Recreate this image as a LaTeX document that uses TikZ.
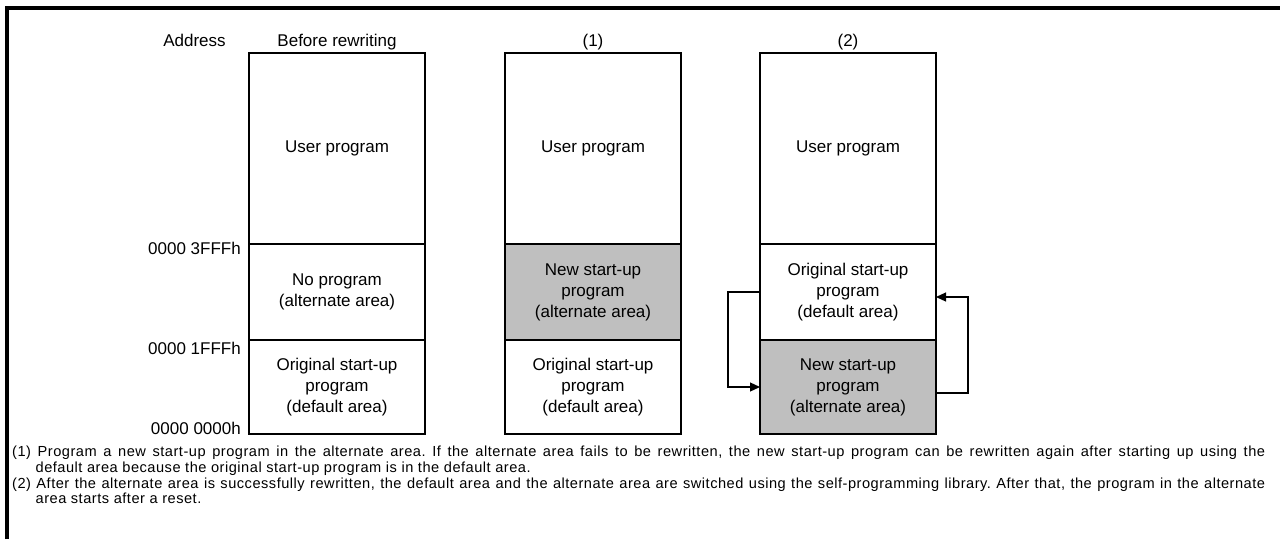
\documentclass[tikz,border=0pt]{standalone}
\usepackage{fontspec}
\setmainfont{Liberation Sans}
\usetikzlibrary{positioning, arrows.meta}

\newlength{\noteindent}

\begin{document}
\begin{tikzpicture}[x=1pt, y=-1pt,
    area/.style={draw, line width=1.2pt, outer sep=0pt, inner sep=0pt,
      minimum width=176pt, align=center, font=\fontsize{17}{21}\selectfont},
    newarea/.style={area, fill=black!25},
    headtext/.style={inner sep=0pt, font=\fontsize{17}{21}\selectfont},
    addrtext/.style={inner sep=0pt, font=\fontsize{17}{21}\selectfont},
    notetext/.style={inner sep=0pt, text width=1253pt, align=justify,
      font=\fontsize{14.6}{15.7}\selectfont\addfontfeature{LetterSpace=3.5}\frenchspacing},
    swaparrow/.style={line width=1.2pt, -{Triangle[length=10pt, width=9pt]}}]

    \useasboundingbox (0,0) rectangle (1280,539);

    % Frame (cut at right and bottom)
    \draw[line width=3.5pt] (7,539) -- (7,8) -- (1280,8);

    % Before rewriting
    \node[area, minimum height=191pt, anchor=north] (user0) at (337,53) {User program};
    \node[area, minimum height=96pt, below=0pt of user0] (alt0) {No program\\(alternate area)};
    \node[area, minimum height=94pt, below=0pt of alt0] (def0) {Original start-up\\program\\(default area)};

    % (1)
    \node[area, minimum height=191pt, anchor=north] (user1) at (593,53) {User program};
    \node[newarea, minimum height=96pt, below=0pt of user1] (alt1) {New start-up\\program\\(alternate area)};
    \node[area, minimum height=94pt, below=0pt of alt1] (def1) {Original start-up\\program\\(default area)};

    % (2)
    \node[area, minimum height=191pt, anchor=north] (user2) at (848,53) {User program};
    \node[area, minimum height=96pt, below=0pt of user2] (def2) {Original start-up\\program\\(default area)};
    \node[newarea, minimum height=94pt, below=0pt of def2] (alt2) {New start-up\\program\\(alternate area)};

    % Headings
    \node[headtext, above=3pt of user0] (head0) {Before rewriting};
    \node[headtext, above=3pt of user1] (head1) {(1)};
    \node[headtext, above=3pt of user2] (head2) {(2)};

    % Addresses
    \node[addrtext, anchor=north east, xshift=-8pt, yshift=2pt] (addr3) at (user0.south west) {0000 3FFFh};
    \node[addrtext, anchor=north east, xshift=-8pt, yshift=-2pt] (addr1) at (alt0.south west) {0000 1FFFh};
    \node[addrtext, anchor=base east, xshift=-8pt] (addr0) at (def0.south west) {0000 0000h};
    \node[headtext, anchor=base] (addrhead) at (addr3 |- head0.base) {Address};

    % Switching the areas
    \draw[swaparrow] (def2.west) -- ++(-32,0) |- (alt2.west);
    \draw[swaparrow] ([yshift=-6pt]alt2.east) -- ++(32,0) |- ([yshift=-5pt]def2.east);

    % Notes
    \node[notetext, anchor=north west] (note1) at (12,446) {\settowidth{\noteindent}{(1) }%
      \noindent\hangindent=\noteindent\hangafter=1
      (1) Program a new start-up program in the alternate area. If the alternate area fails to be rewritten, the new start-up program can be rewritten again after starting up using the\linebreak
      default area because the original start-up program is in the default area.\par};
    \node[notetext, anchor=north west] (note2) at (12,477.4) {\settowidth{\noteindent}{(2) }%
      \noindent\hangindent=\noteindent\hangafter=1
      (2) After the alternate area is successfully rewritten, the default area and the alternate area are switched using the self-programming library. After that, the program in the alternate\linebreak
      area starts after a reset.\par};
  \end{tikzpicture}
\end{document}
